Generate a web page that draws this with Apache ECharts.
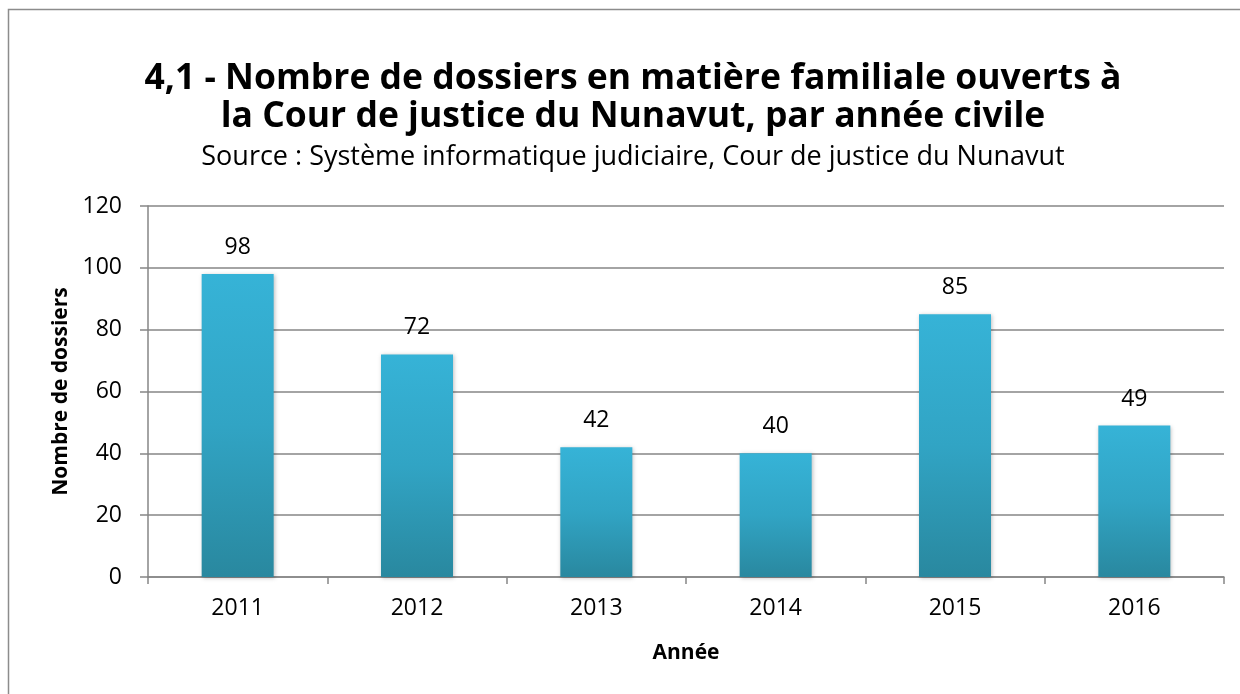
<!DOCTYPE html>
<html>
<head lang="fr">
    <meta charset="UTF-8">
    <title>Dossiers en matière familiale</title>
    <script src="https://cdn.jsdelivr.net/npm/echarts@6/dist/echarts.min.js"></script>
    <style>
        html, body { margin: 0; padding: 0; background: #fff; }
        #chart { width: 1240px; height: 694px; }
    </style>
</head>
<body>
<div id="chart"></div>
<script>
    var years = ['2011', '2012', '2013', '2014', '2015', '2016'];
    var dossiers = [98, 72, 42, 40, 85, 49];
    var yTicks = { min: 0, max: 120, interval: 20 };

    var font = '"Open Sans", "DejaVu Sans", sans-serif';
    var chart = echarts.init(document.getElementById('chart'));

    var option = {
        backgroundColor: '#fff',
        graphic: [{
            type: 'rect',
            shape: { x: 8.5, y: 9.5, width: 1260, height: 720 },
            style: { fill: 'none', stroke: '#8c8c8c', lineWidth: 1.5 },
            silent: true
        }],
        title: {
            text: '4,1 - Nombre de dossiers en matière familiale ouverts à\nla Cour de justice du Nunavut, par année civile',
            subtext: 'Source : Système informatique judiciaire, Cour de justice du Nunavut',
            left: 628,
            textAlign: 'center',
            top: 55,
            itemGap: 8,
            textStyle: { fontFamily: font, fontSize: 35.5, fontWeight: 'bold', color: '#000', lineHeight: 38 },
            subtextStyle: { fontFamily: font, fontSize: 27, color: '#000' }
        },
        grid: { left: 148, right: 16, top: 206, bottom: 117 },
        xAxis: {
            type: 'category',
            data: years,
            name: 'Année',
            nameLocation: 'middle',
            nameGap: 66,
            nameTextStyle: { fontFamily: font, fontSize: 21, fontWeight: 'bold', color: '#000' },
            axisLine: { lineStyle: { color: '#868686', width: 1.5 } },
            axisTick: { show: true, length: 7, lineStyle: { color: '#868686', width: 1.5 } },
            axisLabel: { fontFamily: font, fontSize: 23, color: '#000', margin: 20 }
        },
        yAxis: {
            type: 'value',
            min: yTicks.min,
            max: yTicks.max,
            interval: yTicks.interval,
            name: 'Nombre de dossiers',
            nameLocation: 'middle',
            nameGap: 74,
            nameTextStyle: { fontFamily: font, fontSize: 21, fontWeight: 'bold', color: '#000' },
            axisLine: { show: true, lineStyle: { color: '#868686', width: 1.5 } },
            axisTick: { show: true, length: 8, inside: false, lineStyle: { color: '#868686', width: 1.5 } },
            splitLine: { lineStyle: { color: '#868686', width: 1.5 } },
            axisLabel: { fontFamily: font, fontSize: 23, color: '#000', margin: 26 }
        },
        series: [{
            name: 'Nombre de dossiers',
            type: 'bar',
            data: dossiers,
            barWidth: 72,
            itemStyle: {
                color: new echarts.graphic.LinearGradient(0, 0, 0, 1, [
                    { offset: 0, color: '#36b3d7' },
                    { offset: 0.5, color: '#31a4c4' },
                    { offset: 1, color: '#29889f' }
                ]),
                shadowColor: 'rgba(0,0,0,0.25)',
                shadowBlur: 4,
                shadowOffsetX: 1,
                shadowOffsetY: 1
            },
            label: {
                show: true,
                position: 'top',
                distance: 15,
                fontFamily: font,
                fontSize: 23,
                color: '#000'
            }
        }]
    };

    chart.setOption(option);
</script>
</body>
</html>
